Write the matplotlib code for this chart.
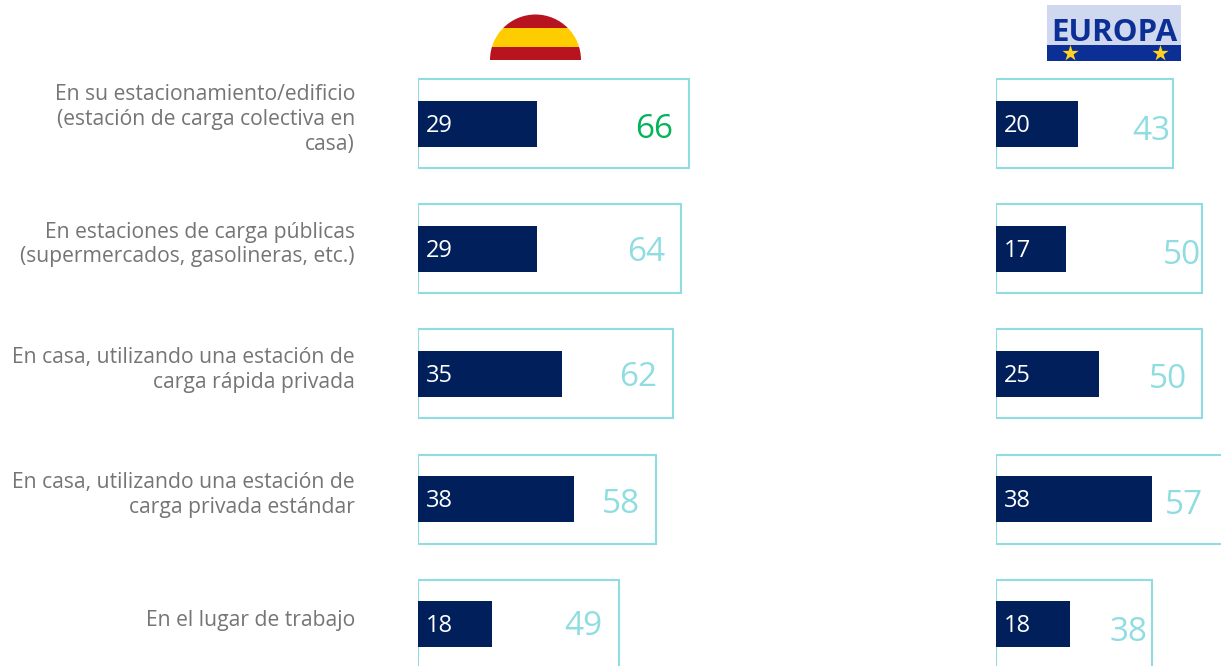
import matplotlib
matplotlib.use('Agg')
import matplotlib.pyplot as plt
from matplotlib.patches import Rectangle, Wedge

plt.rcParams['font.family'] = ['Open Sans', 'DejaVu Sans']

W, H = 1221, 666

# datos
categorias = [
    'En su estacionamiento/edificio\n(estación de carga colectiva en\ncasa)',
    'En estaciones de carga públicas\n(supermercados, gasolineras, etc.)',
    'En casa, utilizando una estación de\ncarga rápida privada',
    'En casa, utilizando una estación de\ncarga privada estándar',
    'En el lugar de trabajo',
]
espana_interior = [29, 29, 35, 38, 18]
espana_exterior = [66, 64, 62, 58, 49]
europa_interior = [20, 17, 25, 38, 18]
europa_exterior = [43, 50, 50, 57, 38]

# ajustes de las etiquetas, en pixeles
espana_dx = [-16, -16, -16, -16, -17]
espana_dy = [-6, -4, -4, -5, -2]
europa_dx = [-2, 0, -14, -27, -5]
europa_dy = [-8, -7, -6, -6, -8]

NAVY = '#001F5B'
CIAN = '#8FDDE0'
VERDE = '#00B45A'
GRIS = '#757575'
PX_UNIDAD = 4.11
FILA = 125.2
Y0 = 123.5


def panel(fig, x_px, interior, exterior, dx, dy, resaltar=None):
    ancho = W - x_px if x_px > 900 else 300
    ax = fig.add_axes([x_px / W, 0, ancho / W, 1])
    ax.set_xlim(0, ancho / PX_UNIDAD)
    ax.set_ylim((H - Y0) / FILA, -Y0 / FILA)
    ax.axis('off')
    ax.patch.set_alpha(0)
    pos = range(len(interior))
    ax.barh(pos, exterior, height=89 / FILA, color='white', edgecolor=CIAN,
            linewidth=1.5, clip_on=True, zorder=1)
    ax.barh(pos, interior, height=46 / FILA, color=NAVY, zorder=2)
    for i in pos:
        ax.annotate(str(interior[i]), (0, i), xytext=(8, -2), textcoords='offset pixels',
                    color='white', fontsize=17, ha='left', va='center', zorder=3)
        color = VERDE if i == resaltar else CIAN
        ax.annotate(str(exterior[i]), (exterior[i], i), xytext=(dx[i], dy[i]),
                    textcoords='offset pixels', color=color, fontsize=24,
                    ha='right', va='center', zorder=3, annotation_clip=False)
    return ax


fig = plt.figure(figsize=(W / 100, H / 100), dpi=100, facecolor='white')

panel(fig, 418, espana_interior, espana_exterior, espana_dx, espana_dy, resaltar=0)
panel(fig, 996, europa_interior, europa_exterior, europa_dx, europa_dy)

# capa en pixeles para textos y banderas
capa = fig.add_axes([0, 0, 1, 1])
capa.set_xlim(0, W)
capa.set_ylim(H, 0)
capa.axis('off')
capa.patch.set_alpha(0)

for i, txt in enumerate(categorias):
    capa.text(355, Y0 + FILA * i - 4, txt, ha='right', va='center', color=GRIS,
              fontsize=15.2, linespacing=1.22, multialignment='right')

# bandera de Espana
semi = Wedge((535.5, 60), 45.5, 180, 360, transform=capa.transData)
for y0, y1, c in [(13, 28, '#B8141F'), (28, 47, '#FFCC00'), (47, 60, '#B8141F')]:
    r = Rectangle((489, y0), 93, y1 - y0, color=c, lw=0)
    capa.add_patch(r)
    r.set_clip_path(semi)

# logo de Europa
capa.add_patch(Rectangle((1047, 5), 134, 40, color='#D0D8F0', lw=0))
capa.add_patch(Rectangle((1047, 45), 134, 16, color='#0B2F95', lw=0))
capa.text(1114, 33, 'EUROPA', ha='center', va='center', color='#0B2F95',
          fontsize=22.5, fontweight='bold')
capa.scatter([1070, 1160], [53, 53], marker='*', s=150, color='#FFD21F', linewidths=0, zorder=5)

fig.savefig('out.png', dpi=100)
